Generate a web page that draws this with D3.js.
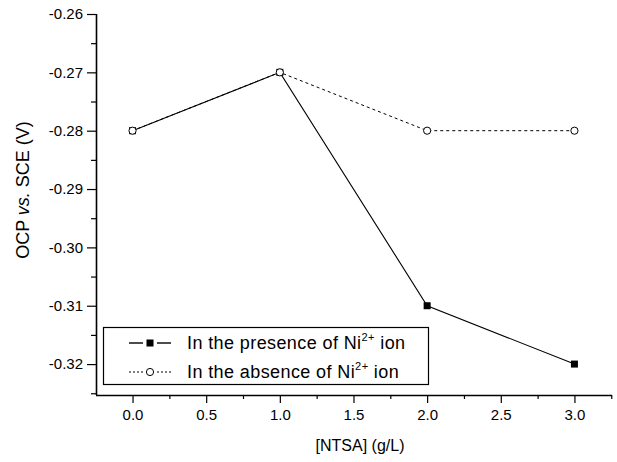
<!DOCTYPE html>
<html>
<head>
<meta charset="utf-8">
<script src="https://cdn.jsdelivr.net/npm/d3@7/dist/d3.min.js"></script>
<style>
  body { margin: 0; background: #fff; }
  text { font-family: "Liberation Sans", Arial, sans-serif; fill: #000; }
</style>
</head>
<body>
<svg id="chart" width="617" height="462"></svg>
<script>
// NTSA concentration (g/L)
const conc = [0.0, 1.0, 2.0, 3.0];
// OCP vs SCE (V)
const withNi = [-0.28, -0.27, -0.31, -0.32];
const withoutNi = [-0.28, -0.27, -0.28, -0.28];
const xTicks = [0.0, 0.5, 1.0, 1.5, 2.0, 2.5, 3.0];
const yTicks = [-0.26, -0.27, -0.28, -0.29, -0.30, -0.31, -0.32];

const svg = d3.select("#chart");

const x = d3.scaleLinear().domain([-0.248, 3.255]).range([96, 612]);
const y = d3.scaleLinear().domain([-0.3253, -0.26]).range([395, 14]);

// x axis, major + minor ticks
const xAxis = svg.append("g").attr("transform", "translate(0,395)");
xAxis.call(d3.axisBottom(x).tickValues(xTicks).tickFormat(d => d.toFixed(1)).tickSize(8).tickPadding(6));
xAxis.append("g").call(d3.axisBottom(x).tickValues(d3.range(0.25, 3.26, 0.5)).tickSize(4).tickFormat(""));

// y axis
const yAxis = svg.append("g").attr("transform", "translate(96,0)");
yAxis.call(d3.axisLeft(y).tickValues(yTicks).tickFormat(d => d.toFixed(2)).tickSize(9).tickPadding(4));
yAxis.append("g").call(d3.axisLeft(y).tickValues(d3.range(-0.265, -0.3251, -0.01)).tickSize(5).tickFormat(""));

// plain spines, no end caps
xAxis.select(".domain").attr("d", "M96,0.5H612").attr("stroke-width", 1.6);
yAxis.select(".domain").attr("d", "M0.5,395V14").attr("stroke-width", 1.6);
xAxis.selectAll("g g .domain, g .domain").filter(function () { return this.parentNode !== xAxis.node(); }).remove();
yAxis.selectAll("g .domain").filter(function () { return this.parentNode !== yAxis.node(); }).remove();

svg.selectAll(".tick line").attr("stroke", "#000").attr("stroke-width", 1.2);
svg.selectAll(".tick text").style("font-size", "15px").style("font-family", "Liberation Sans, Arial, sans-serif");

// axis titles
svg.append("text")
  .attr("x", 360).attr("y", 451)
  .attr("text-anchor", "middle")
  .style("font-size", "16px")
  .text("[NTSA] (g/L)");

const yt = svg.append("text")
  .attr("transform", "translate(29,190) rotate(-90)")
  .attr("text-anchor", "middle")
  .style("font-size", "18px");
yt.append("tspan").text("OCP ");
yt.append("tspan").style("font-style", "italic").text("vs.");
yt.append("tspan").text(" SCE (V)");

const line = d3.line().x((d, i) => x(conc[i])).y(d => y(d));

svg.append("path").datum(withNi)
  .attr("d", line).attr("fill", "none")
  .attr("stroke", "#000").attr("stroke-width", 1.1);

svg.append("path").datum(withoutNi)
  .attr("d", line).attr("fill", "none")
  .attr("stroke", "#000").attr("stroke-width", 1)
  .attr("stroke-dasharray", "3,3");

svg.selectAll("rect.sq").data(withNi).enter().append("rect")
  .attr("class", "sq")
  .attr("x", (d, i) => x(conc[i]) - 3.5)
  .attr("y", d => y(d) - 3.5)
  .attr("width", 7).attr("height", 7)
  .attr("fill", "#000");

svg.selectAll("circle.ci").data(withoutNi).enter().append("circle")
  .attr("class", "ci")
  .attr("cx", (d, i) => x(conc[i]))
  .attr("cy", d => y(d))
  .attr("r", 3.6)
  .attr("fill", "#fff")
  .attr("stroke", "#000").attr("stroke-width", 1);

// legend
const lg = svg.append("g");
lg.append("rect")
  .attr("x", 103.5).attr("y", 327.5)
  .attr("width", 325).attr("height", 57)
  .attr("fill", "#fff").attr("stroke", "#000").attr("stroke-width", 1.2);

const entries = [
  { label: "In the presence of Ni", dash: null, marker: "square" },
  { label: "In the absence of Ni", dash: "2,2", marker: "circle" }
];
entries.forEach((e, i) => {
  const cy = 343 + i * 29;
  [[129, 143], [157, 171]].forEach(seg => {
    lg.append("line")
      .attr("x1", seg[0]).attr("x2", seg[1]).attr("y1", cy).attr("y2", cy)
      .attr("stroke", "#000").attr("stroke-width", e.dash ? 1 : 1.4)
      .attr("stroke-dasharray", e.dash);
  });
  if (e.marker === "square") {
    lg.append("rect").attr("x", 146.5).attr("y", cy - 3.5).attr("width", 7).attr("height", 7).attr("fill", "#000");
  } else {
    lg.append("circle").attr("cx", 150).attr("cy", cy).attr("r", 3.6)
      .attr("fill", "#fff").attr("stroke", "#000");
  }
  const t = lg.append("text").attr("x", 187).attr("y", cy + 6)
    .style("font-size", "18px").style("letter-spacing", "0.4px");
  t.append("tspan").text(e.label);
  t.append("tspan").attr("dy", -8).style("font-size", "11px").text("2+");
  t.append("tspan").attr("dy", 8).text(" ion");
});
</script>
</body>
</html>
